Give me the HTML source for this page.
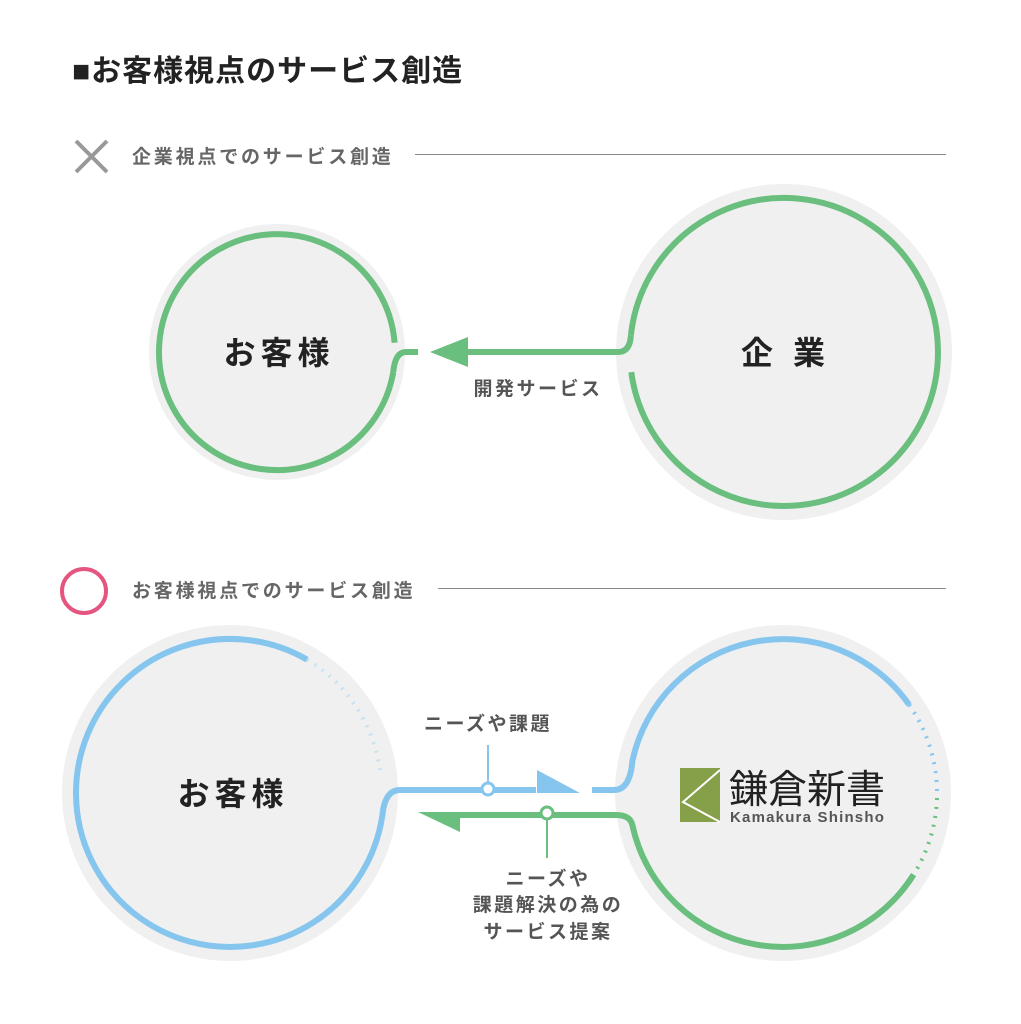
<!DOCTYPE html>
<html><head><meta charset="utf-8"><style>
html,body{margin:0;padding:0;background:#fff;}
svg{display:block;}
text{font-family:"Liberation Sans","Noto Sans CJK JP",sans-serif;}
</style></head><body>
<svg width="1021" height="1024" viewBox="0 0 1021 1024" xmlns="http://www.w3.org/2000/svg">
<rect width="1021" height="1024" fill="#fff"/>
<text x="72" y="81" font-size="30" font-weight="bold" fill="#222" letter-spacing="1">■お客様視点のサービス創造</text>

<!-- section 1 header -->
<path d="M76 141 L107 172 M107 141 L76 172" stroke="#999" stroke-width="4"/>
<text x="132" y="163" font-size="19" font-weight="bold" fill="#666" letter-spacing="2.8">企業視点でのサービス創造</text>
<line x1="415" y1="154.5" x2="946" y2="154.5" stroke="#888" stroke-width="1"/>

<!-- top circles -->
<circle cx="277" cy="352" r="128" fill="#f0f0f0"/>
<circle cx="784" cy="352" r="168" fill="#f0f0f0"/>
<g fill="none" stroke="#6abf7f" stroke-width="6">
<path d="M393.2 372.5 A118 118 0 1 1 394.6 342.7"/>
<path d="M418 352 H406 Q395 352 393.2 372.5"/>
<path d="M631.3 372.1 A154 154 0 1 0 630.9 335.1"/>
<path d="M468 352 H618 Q630 352 630.9 335.1"/>
</g>
<polygon points="430,352 468,337 468,367" fill="#6abf7f"/>
<text x="279" y="364" font-size="32" font-weight="bold" fill="#222" text-anchor="middle" letter-spacing="5">お客様</text>
<text x="793" y="364" font-size="32" font-weight="bold" fill="#222" text-anchor="middle" letter-spacing="20">企業</text>
<text x="538" y="395" font-size="19" font-weight="bold" fill="#555" text-anchor="middle" letter-spacing="2.5">開発サービス</text>

<!-- section 2 header -->
<circle cx="84" cy="591" r="22" fill="none" stroke="#e4557f" stroke-width="4"/>
<text x="132" y="597" font-size="19" font-weight="bold" fill="#666" letter-spacing="2.8">お客様視点でのサービス創造</text>
<line x1="438" y1="588.5" x2="946" y2="588.5" stroke="#888" stroke-width="1"/>

<!-- bottom circles -->
<circle cx="230" cy="793" r="168" fill="#f0f0f0"/>
<circle cx="783" cy="793" r="168" fill="#f0f0f0"/>
<g fill="none" stroke-width="6">
<path d="M536 790 H400 Q385 790 382.5 814.4 A154 154 0 1 1 307 659.6" stroke="#86c6ee"/>
<path d="M307 659.6 A154 154 0 0 1 380 770" stroke="#b8dcef" stroke-width="4" stroke-dasharray="2 7" opacity="0.7"/>
<path d="M592 790 H614 Q630 790 632.4 761 A154 154 0 0 1 909.1 704.7" stroke="#86c6ee"/>
<path d="M909.1 704.7 A154 154 0 0 1 937 793" stroke="#86c6ee" stroke-width="4" stroke-dasharray="2 7"/>
<path d="M937 798 A154 154 0 0 1 913.6 874.6" stroke="#6abf7f" stroke-width="4" stroke-dasharray="2 7"/>
<path d="M913.6 874.6 A154 154 0 0 1 632.4 825 Q630 815 616 815 H460" stroke="#6abf7f"/>
</g>
<polygon points="537,770 580,793 537,793" fill="#86c6ee"/>
<polygon points="418,812 460,812 460,832" fill="#6abf7f"/>
<line x1="488" y1="745" x2="488" y2="783" stroke="#86c6ee" stroke-width="2"/>
<circle cx="488" cy="789" r="6" fill="#fff" stroke="#86c6ee" stroke-width="3"/>
<line x1="547" y1="819" x2="547" y2="858" stroke="#6abf7f" stroke-width="2"/>
<circle cx="547" cy="813" r="6" fill="#fff" stroke="#6abf7f" stroke-width="3"/>
<text x="488" y="730" font-size="19" font-weight="bold" fill="#555" text-anchor="middle" letter-spacing="2.5">ニーズや課題</text>
<text x="548" y="885" font-size="19" font-weight="bold" fill="#555" text-anchor="middle" letter-spacing="2.5">ニーズや</text>
<text x="548" y="911" font-size="19" font-weight="bold" fill="#555" text-anchor="middle" letter-spacing="2.5">課題解決の為の</text>
<text x="548" y="938" font-size="19" font-weight="bold" fill="#555" text-anchor="middle" letter-spacing="2.5">サービス提案</text>
<text x="233" y="805" font-size="32" font-weight="bold" fill="#222" text-anchor="middle" letter-spacing="5">お客様</text>

<!-- logo -->
<rect x="680" y="768" width="40" height="54" fill="#86a04a"/>
<path d="M720 770 L683 802 L720 822" fill="none" stroke="#fff" stroke-width="2"/>
<text x="729" y="803" font-size="39" fill="#222">鎌倉新書</text>
<text x="730" y="822" font-size="15" font-weight="bold" fill="#555" letter-spacing="1.2">Kamakura  Shinsho</text>
</svg>
</body></html>
